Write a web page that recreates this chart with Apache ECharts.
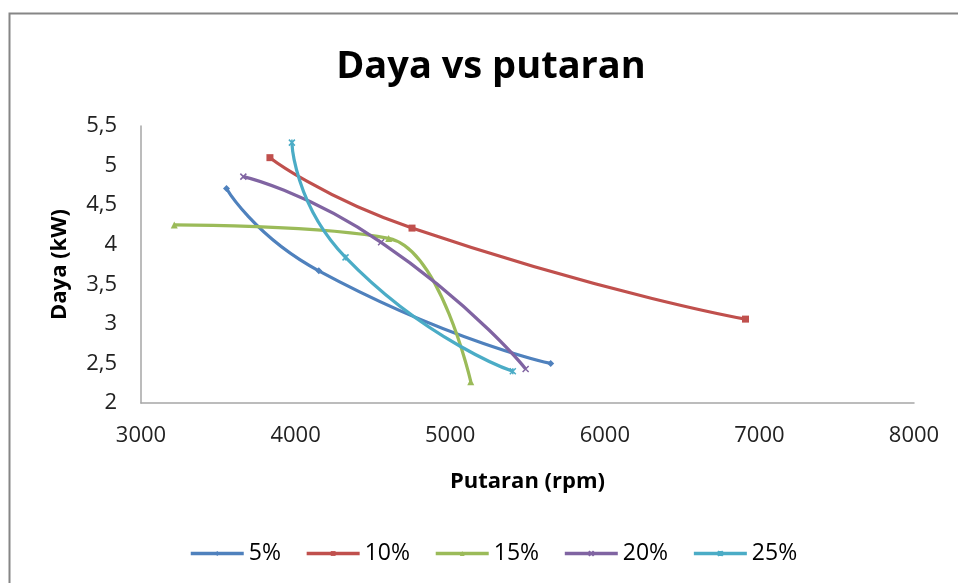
<!DOCTYPE html>
<html>
<head>
<meta charset="utf-8">
<script src="https://cdn.jsdelivr.net/npm/echarts@6/dist/echarts.min.js"></script>
<style>html,body{margin:0;padding:0;background:#fff}#c{width:958px;height:583px}</style>
</head>
<body>
<div id="c"></div>
<script>
const seriesNames = ['5%', '10%', '15%', '20%', '25%'];
const rpm5 = [3553, 4150, 5650];
const kw5 = [4.71, 3.67, 2.50];
const rpm10 = [3834, 4753, 6910];
const kw10 = [5.10, 4.21, 3.06];
const rpm15 = [3215, 4602, 5133];
const kw15 = [4.25, 4.08, 2.27];
const rpm20 = [3662, 4553, 5488];
const kw20 = [4.86, 4.03, 2.43];
const rpm25 = [3976, 4323, 5405];
const kw25 = [5.29, 3.84, 2.40];
const xTicks = [3000, 4000, 5000, 6000, 7000, 8000];
const yTicks = [2, 2.5, 3, 3.5, 4, 4.5, 5, 5.5];

const colors = ['#4F81BD', '#C0504D', '#9BBB59', '#8064A2', '#4BACC6'];
const xPath = 'path://M0,0L10,10M10,0L0,10';
const starPath = 'path://M0,0L10,10M10,0L0,10M5,0L5,10';
const symbols = ['diamond', 'rect', 'triangle', xPath, starPath];
const smoothing = [0.6, 0.6, 0.4, 0.6, 0.6];
const xs = [rpm5, rpm10, rpm15, rpm20, rpm25];
const ys = [kw5, kw10, kw15, kw20, kw25];
const font = '"Open Sans", sans-serif';

const series = seriesNames.map((n, i) => ({
  name: n,
  type: 'line',
  smooth: smoothing[i],
  data: xs[i].map((x, j) => [x, ys[i][j]]),
  symbol: symbols[i],
  symbolSize: i >= 3 ? 6 : 7,
  showSymbol: true,
  lineStyle: { color: colors[i], width: 3.2 },
  itemStyle: { color: colors[i], borderColor: colors[i], borderWidth: i >= 3 ? 1.5 : 0 },
  emphasis: { disabled: true }
}));

const chart = echarts.init(document.getElementById('c'), null, { renderer: 'canvas' });
chart.setOption({
  animation: false,
  backgroundColor: '#fff',
  color: colors,
  title: {
    text: 'Daya vs putaran',
    left: 486, top: 43, textAlign: 'center',
    textStyle: { fontFamily: font, fontSize: 38, fontWeight: 'bold', color: '#000' }
  },
  graphic: [{
    type: 'rect', shape: { x: 9.5, y: 13.5, width: 1000, height: 1000 },
    style: { fill: 'none', stroke: '#868686', lineWidth: 2 }, silent: true
  }],
  legend: {
    top: 537, left: 184,
    itemWidth: 53, itemHeight: 6, itemGap: 24,
    lineStyle: { width: 3.5 },
    textStyle: { fontFamily: font, fontSize: 23, color: '#000', padding: [0, 0, 0, 0] },
    data: seriesNames
  },
  grid: { left: 141, top: 126, right: 44, bottom: 180, containLabel: false },
  xAxis: {
    type: 'value', min: 3000, max: 8000, interval: 1000,
    name: 'Putaran (rpm)', nameLocation: 'middle', nameGap: 68,
    nameTextStyle: { fontFamily: font, fontSize: 22, fontWeight: 'bold', color: '#000' },
    axisLine: { lineStyle: { color: '#a6a6a6', width: 1.5 } },
    axisTick: { show: false },
    splitLine: { show: false },
    axisLabel: { fontFamily: font, fontSize: 22, color: '#222', margin: 22,
      formatter: v => xTicks.includes(v) ? String(v) : '' }
  },
  yAxis: {
    type: 'value', min: 2, max: 5.5, interval: 0.5,
    name: 'Daya (kW)', nameLocation: 'middle', nameGap: 70, nameRotate: 90,
    nameTextStyle: { fontFamily: font, fontSize: 22, fontWeight: 'bold', color: '#000' },
    axisLine: { show: true, lineStyle: { color: '#a6a6a6', width: 1.5 } },
    axisTick: { show: false },
    splitLine: { show: false },
    axisLabel: { fontFamily: font, fontSize: 22, color: '#222', margin: 24,
      formatter: v => yTicks.includes(+v.toFixed(1)) ? String(v).replace('.', ',') : '' }
  },
  series: series
});
</script>
</body>
</html>
